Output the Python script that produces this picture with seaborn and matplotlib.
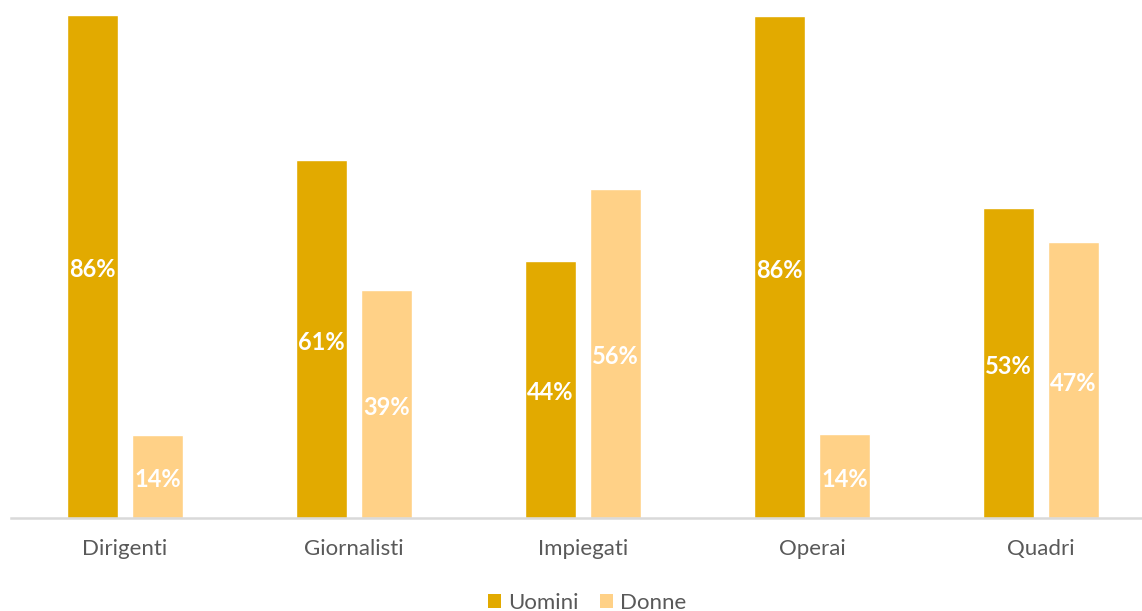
import matplotlib
matplotlib.use("Agg")
import matplotlib.pyplot as plt
import seaborn as sns
import pandas as pd
from matplotlib.patches import Patch

categories = ["Dirigenti", "Giornalisti", "Impiegati", "Operai", "Quadri"]
uomini = [85.9, 61.1, 43.9, 85.7, 52.9]
donne = [14.1, 38.9, 56.1, 14.3, 47.1]
series = ["Uomini", "Donne"]
colors = ["#E2AA00", "#FFD187"]

df = pd.DataFrame({
    "categoria": categories * 2,
    "valore": uomini + donne,
    "genere": [series[0]] * len(categories) + [series[1]] * len(categories),
})

sns.set_theme(style="white")
plt.rcParams["font.family"] = ["Lato", "DejaVu Sans"]

fig = plt.figure(figsize=(11.42, 6.11), dpi=100)
ax = fig.add_axes([10.5 / 1142, 93.5 / 611, 1145 / 1142, 517.5 / 611])

sns.barplot(data=df, x="categoria", y="valore", hue="genere", order=categories,
            hue_order=series, palette=colors, width=0.5677, gap=0.2153,
            saturation=1, legend=False, ax=ax)

ax.set_xlim(-0.5, 4.5)
ax.set_ylim(0, 88.46)
ax.set_xlabel("")
ax.set_ylabel("")
ax.set_yticks([])
for s in ["top", "left", "right"]:
    ax.spines[s].set_visible(False)
ax.spines["bottom"].set_color("#D9D9D9")
ax.spines["bottom"].set_linewidth(1.8)
ax.tick_params(axis="x", length=0, pad=15.5, labelsize=16, labelcolor="#595959")

for cont in ax.containers:
    anns = ax.bar_label(cont, labels=[f"{v:.0f}%" for v in cont.datavalues],
                        label_type="center", color="white", fontweight="bold", fontsize=17)
    for a in anns:
        a.xyann = (0, -2.5)

handles = [Patch(facecolor=c, edgecolor="none") for c in colors]
fig.legend(handles, series, loc="center", bbox_to_anchor=(587 / 1142, 1 - 603 / 611),
           ncol=2, frameon=False, fontsize=16, labelcolor="#595959",
           handlelength=0.6, handleheight=0.6, handletextpad=0.32, columnspacing=0.95,
           borderpad=0, borderaxespad=0)

fig.savefig("out.png", dpi=100)
